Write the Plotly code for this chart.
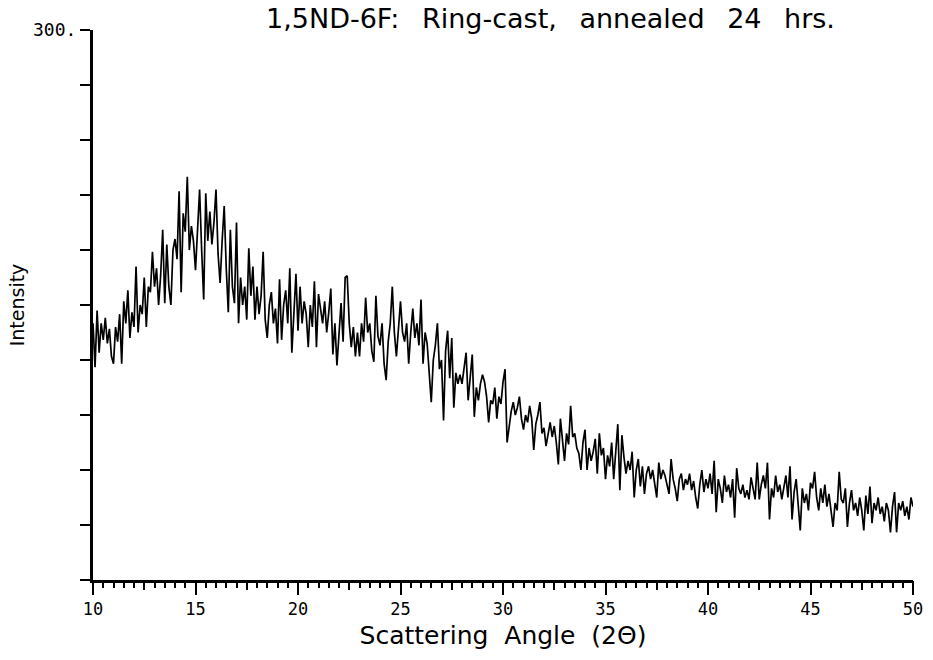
import plotly.graph_objects as go

# Scattering angle grid: 10.0 .. 50.0 step 0.1 (one row per degree)
x_start = 10.0
x_step = 0.1

intensity_rows = [
    [140, 116, 147, 124, 140, 131, 143, 129, 137, 122],  # 10
    [118, 138, 130, 145, 118, 152, 140, 158, 132, 146],  # 11
    [138, 171, 135, 150, 145, 165, 138, 160, 157, 179],  # 12
    [160, 170, 150, 166, 191, 151, 183, 160, 150, 180],  # 13
    [186, 175, 212, 157, 200, 190, 220, 180, 193, 185],  # 14
    [169, 195, 213, 180, 153, 211, 185, 201, 183, 195],  # 15
    [213, 178, 162, 185, 204, 170, 146, 191, 160, 151],  # 16
    [195, 140, 165, 150, 160, 142, 181, 155, 171, 142],  # 17
    [160, 145, 155, 179, 142, 132, 150, 157, 140, 148],  # 18
    [129, 164, 131, 150, 158, 140, 170, 124, 150, 167],  # 19
    [136, 160, 140, 152, 145, 127, 150, 138, 163, 127],  # 20
    [156, 148, 140, 152, 135, 146, 159, 123, 140, 117],  # 21
    [135, 151, 130, 165, 166, 140, 127, 138, 122, 135],  # 22
    [122, 140, 130, 154, 135, 140, 125, 119, 155, 133],  # 23
    [128, 140, 118, 109, 130, 140, 160, 135, 122, 140],  # 24
    [152, 135, 130, 140, 118, 135, 148, 132, 140, 128],  # 25
    [153, 118, 135, 129, 110, 97, 120, 128, 140, 115],   # 26
    [120, 87, 125, 136, 110, 132, 94, 113, 107, 112],    # 27
    [107, 115, 124, 98, 110, 123, 89, 105, 98, 107],     # 28
    [112, 108, 100, 86, 98, 96, 105, 88, 100, 96],       # 29
    [108, 115, 75, 85, 92, 97, 90, 94, 100, 88],         # 30
    [82, 90, 86, 95, 88, 71, 85, 90, 97, 80],            # 31
    [83, 73, 80, 86, 78, 84, 75, 63, 88, 78],            # 32
    [65, 80, 74, 95, 78, 80, 72, 69, 60, 75],            # 33
    [82, 60, 72, 65, 70, 77, 58, 80, 68, 72],            # 34
    [55, 68, 62, 75, 55, 70, 85, 49, 79, 67],            # 35
    [58, 65, 60, 70, 45, 60, 66, 51, 62, 47],            # 36
    [58, 62, 55, 60, 52, 45, 64, 55, 60, 57],            # 37
    [52, 47, 66, 55, 50, 43, 55, 58, 49, 55],            # 38
    [52, 58, 49, 54, 45, 39, 52, 60, 48, 55],            # 39
    [50, 58, 47, 65, 37, 55, 50, 42, 57, 48],            # 40
    [52, 45, 55, 34, 61, 50, 47, 52, 45, 49],            # 41
    [44, 56, 50, 44, 64, 44, 52, 57, 50, 64],            # 42
    [33, 50, 45, 57, 48, 52, 44, 50, 57, 45],            # 43
    [62, 33, 48, 55, 40, 27, 50, 42, 47, 38],            # 44
    [53, 50, 59, 45, 38, 50, 42, 52, 40, 47],            # 45
    [38, 29, 42, 38, 59, 44, 42, 50, 29, 42],            # 46
    [49, 38, 42, 35, 45, 38, 27, 46, 36, 51],            # 47
    [31, 42, 38, 45, 36, 40, 32, 42, 38, 26],            # 48
    [40, 48, 26, 42, 38, 43, 35, 40, 33, 45],            # 49
    [40],                                                # 50
]

intensity = [v for row in intensity_rows for v in row]
angle = [round(x_start + i * x_step, 2) for i in range(len(intensity))]

y_tick_vals = list(range(0, 301, 30))
y_tick_text = ["" for _ in y_tick_vals[:-1]] + ["300."]
x_tick_vals = [10, 15, 20, 25, 30, 35, 40, 45, 50]
x_tick_text = ["10", "15", "20", "25", "30", "35", "40", "45", "50"]

mono = "DejaVu Sans Mono"
sans = "DejaVu Sans"
gap_title = "\u00a0 \u2009"
gap_axis = "\u00a0 "

fig = go.Figure()
fig.add_trace(go.Scatter(
    x=angle, y=intensity, mode="lines",
    line=dict(color="black", width=1.7),
    showlegend=False, hoverinfo="x+y",
))
# helper trace so the medium-tick axis is drawn
fig.add_trace(go.Scatter(x=[None], y=[None], xaxis="x2", showlegend=False, hoverinfo="skip"))

fig.update_layout(
    width=933, height=660,
    margin=dict(l=93, r=20, t=30, b=80),
    paper_bgcolor="white", plot_bgcolor="white",
    title=dict(
        text="1,5ND-6F:" + gap_title + "Ring-cast," + gap_title + "annealed" + gap_title + "24" + gap_title + "hrs.",
        x=0.59, xanchor="center", y=0.972, yanchor="middle",
        font=dict(family=sans, size=27, color="black"),
    ),
    xaxis=dict(
        range=[10, 50], showgrid=False, zeroline=False, automargin=False,
        showline=True, linecolor="black", linewidth=3,
        ticks="outside", tickvals=x_tick_vals, ticktext=x_tick_text,
        ticklen=12, tickwidth=2, tickcolor="black",
        minor=dict(dtick=0.5, tick0=10, ticks="outside", ticklen=5, tickwidth=1.5, tickcolor="black", showgrid=False),
        tickfont=dict(family=mono, size=17, color="black"),
        title=dict(text="Scattering" + gap_axis + "Angle" + gap_axis + "(2\u0398)", font=dict(family=sans, size=25, color="black"), standoff=9),
    ),
    xaxis2=dict(
        range=[10, 50], overlaying="x", anchor="y", side="bottom",
        showgrid=False, zeroline=False, showline=False,
        ticks="outside", tick0=10, dtick=2.5, ticklen=9, tickwidth=1.5, tickcolor="black",
        showticklabels=False,
    ),
    yaxis=dict(
        range=[0, 300], showgrid=False, zeroline=False, automargin=False,
        showline=True, linecolor="black", linewidth=3,
        ticks="outside", tickvals=y_tick_vals, ticktext=y_tick_text,
        ticklen=10, tickwidth=1.5, tickcolor="black",
        tickfont=dict(family=mono, size=18, color="black"),
        title=dict(text="Intensity", font=dict(family=sans, size=19, color="black"), standoff=4),
    ),
)

fig.write_html("out.html")
